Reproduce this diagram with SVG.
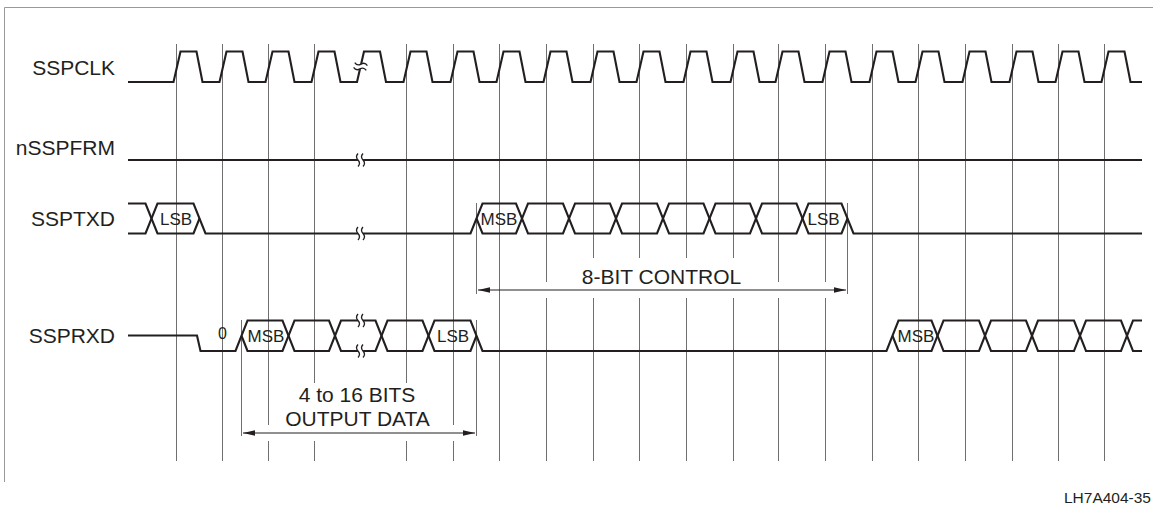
<svg xmlns="http://www.w3.org/2000/svg" width="1153" height="506" viewBox="0 0 1153 506">
<style>
.lbl{font-family:"Liberation Sans",Arial,Helvetica,sans-serif;font-size:21px;fill:#231f20}
.box{font-family:"Liberation Sans",Arial,Helvetica,sans-serif;font-size:17px;fill:#231f20;text-anchor:middle}
.zero{font-family:"Liberation Sans",Arial,Helvetica,sans-serif;font-size:16px;fill:#231f20;text-anchor:middle}
.grid{stroke:#6f6f6f;stroke-width:1;fill:none}
.wave{stroke:#231f20;stroke-width:2.1;fill:none;stroke-linejoin:miter}
.dim{stroke:#231f20;stroke-width:1;fill:none}
.sq{stroke:#231f20;stroke-width:1.3;fill:none}
</style>
<defs>
<marker id="ah" markerUnits="userSpaceOnUse" markerWidth="13" markerHeight="6" refX="12" refY="3" orient="auto-start-reverse">
<path d="M0,0.3 L12,3 L0,5.7 z" fill="#231f20"/>
</marker>
<g id="brk">
<rect x="-2.6" y="-2.2" width="5.2" height="4.4" fill="#fff"/>
<path class="sq" d="M-2.5,-6.5 q-3,3.25 0,6.5 q3,3.25 0,6.5"/>
<path class="sq" d="M2.5,-6.5 q-3,3.25 0,6.5 q3,3.25 0,6.5"/>
</g>
</defs>
<rect width="1153" height="506" fill="#fff"/>
<path d="M4.5,482 L4.5,7.5 L1153,7.5" stroke="#999" stroke-width="1" fill="none"/>

<g id="grid">
<path class="grid" d="M176.5,44V461 M222.5,44V461 M268.5,44V425 M268.5,441V461 M314.5,44V383 M314.5,441V461 M406.5,44V383 M406.5,441V461 M453.5,44V425 M453.5,441V461 M499.5,44V461 M546.5,44V282 M546.5,298V461 M593.5,44V258 M593.5,298V461 M639.5,44V258 M639.5,298V461 M686.5,44V258 M686.5,298V461 M733.5,44V258 M733.5,298V461 M778.5,44V282 M778.5,298V461 M825.5,44V282 M825.5,298V461 M872.5,44V461 M918.5,44V461 M965.5,44V461 M1012.5,44V461 M1058.5,44V461 M1104.5,44V461"/>
<path class="grid" d="M241.5,320V436 M476.5,203V294 M476.5,320V436 M847.5,203V294"/>
</g>

<g id="sspclk">
<text class="lbl" x="115" y="75" text-anchor="end">SSPCLK</text>
<path class="wave" d="M128,82 L173.5,82 L180.5,51.5 L196.5,51.5 L202.5,82 L219.5,82 L226.5,51.5 L242.5,51.5 L248.5,82 L265.5,82 L272.5,51.5 L288.5,51.5 L294.5,82 L311.5,82 L318.5,51.5 L334.5,51.5 L340.5,82 L357,82 L364,51.5 L380,51.5 L386,82 L403.5,82 L410.5,51.5 L426.5,51.5 L432.5,82 L450.5,82 L457.5,51.5 L473.5,51.5 L479.5,82 L496.5,82 L503.5,51.5 L519.5,51.5 L525.5,82 L543.5,82 L550.5,51.5 L566.5,51.5 L572.5,82 L590.5,82 L597.5,51.5 L613.5,51.5 L619.5,82 L636.5,82 L643.5,51.5 L659.5,51.5 L665.5,82 L683.5,82 L690.5,51.5 L706.5,51.5 L712.5,82 L730.5,82 L737.5,51.5 L753.5,51.5 L759.5,82 L775.5,82 L782.5,51.5 L798.5,51.5 L804.5,82 L822.5,82 L829.5,51.5 L845.5,51.5 L851.5,82 L869.5,82 L876.5,51.5 L892.5,51.5 L898.5,82 L915.5,82 L922.5,51.5 L938.5,51.5 L944.5,82 L962.5,82 L969.5,51.5 L985.5,51.5 L991.5,82 L1009.5,82 L1016.5,51.5 L1032.5,51.5 L1038.5,82 L1055.5,82 L1062.5,51.5 L1078.5,51.5 L1084.5,82 L1101.5,82 L1108.5,51.5 L1124.5,51.5 L1130.5,82 L1142,82"/>
<use href="#brk" transform="translate(360.5,66.5) rotate(-77)"/>
</g>

<g id="nsspfrm">
<text class="lbl" x="115" y="155" text-anchor="end">nSSPFRM</text>
<path class="wave" d="M128,160 L1142,160"/>
<use href="#brk" transform="translate(360.5,160)"/>
</g>

<g id="ssptxd">
<text class="lbl" x="115" y="226" text-anchor="end">SSPTXD</text>
<path class="wave" d="M128,203.5 L145.5,203.5 L157.5,233.5 L193.5,233.5 L199.5,218.5"/>
<path class="wave" d="M128,233.5 L145.5,233.5 L157.5,203.5 L193.5,203.5 L205.5,233.5 L470.5,233.5 L482.5,203.5 L516,203.5 L528,233.5 L563,233.5 L575,203.5 L610,203.5 L622,233.5 L657,233.5 L669,203.5 L703.5,203.5 L715.5,233.5 L750,233.5 L762,203.5 L796.5,203.5 L808.5,233.5 L841.5,233.5 L847.5,218.5"/>
<path class="wave" d="M476.5,218.5 L482.5,233.5 L516,233.5 L528,203.5 L563,203.5 L575,233.5 L610,233.5 L622,203.5 L657,203.5 L669,233.5 L703.5,233.5 L715.5,203.5 L750,203.5 L762,233.5 L796.5,233.5 L808.5,203.5 L841.5,203.5 L853.5,233.5 L1142,233.5"/>
<use href="#brk" transform="translate(360.5,233.5)"/>
<text class="box" x="176" y="225">LSB</text>
<text class="box" x="499" y="225">MSB</text>
<text class="box" x="823.5" y="225">LSB</text>
</g>

<g id="ssprxd">
<text class="lbl" x="115" y="343" text-anchor="end">SSPRXD</text>
<path class="wave" d="M128,335.5 L197,335.5 L200.5,351 L235.5,351 L247.5,320.5 L282.5,320.5 L294.5,351 L329,351 L341,320.5 L375.5,320.5 L387.5,351 L422.5,351 L434.5,320.5 L470.5,320.5 L482.5,351 L886.5,351 L898.5,320.5 L931.5,320.5 L943.5,351 L979,351 L991,320.5 L1026,320.5 L1038,351 L1074,351 L1086,320.5 L1121,320.5 L1133,351 L1142,351"/>
<path class="wave" d="M241.5,335.75 L247.5,351 L282.5,351 L294.5,320.5 L329,320.5 L341,351 L375.5,351 L387.5,320.5 L422.5,320.5 L434.5,351 L470.5,351 L476.5,335.75"/>
<path class="wave" d="M892.5,335.75 L898.5,351 L931.5,351 L943.5,320.5 L979,320.5 L991,351 L1026,351 L1038,320.5 L1074,320.5 L1086,351 L1121,351 L1133,320.5 L1142,320.5"/>
<use href="#brk" transform="translate(360.5,320.5)"/>
<use href="#brk" transform="translate(360.5,351)"/>
<text class="zero" x="222.5" y="339">0</text>
<text class="box" x="266" y="342">MSB</text>
<text class="box" x="453" y="342">LSB</text>
<text class="box" x="916" y="342">MSB</text>
</g>

<g id="connectors">
<path class="dim" d="M478,290 L846,290" marker-start="url(#ah)" marker-end="url(#ah)"/>
<path class="dim" d="M243,433 L475,433" marker-start="url(#ah)" marker-end="url(#ah)"/>
</g>

<g id="annotations">
<text class="lbl" x="661.5" y="284" text-anchor="middle">8-BIT CONTROL</text>
<text class="lbl" x="357" y="401.5" text-anchor="middle">4 to 16 BITS</text>
<text class="lbl" x="357.5" y="425.5" text-anchor="middle">OUTPUT DATA</text>
<text class="lbl" x="1151" y="503" text-anchor="end" style="font-size:15.5px">LH7A404-35</text>
</g>
</svg>
